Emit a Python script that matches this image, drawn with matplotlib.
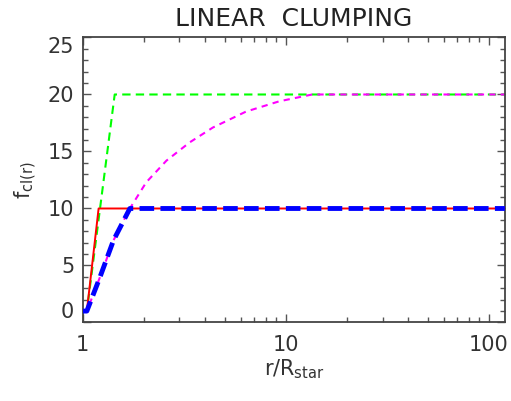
import numpy as np
import matplotlib
matplotlib.use("Agg")
import matplotlib.pyplot as plt
from matplotlib.ticker import FixedLocator, MultipleLocator, NullFormatter

plt.rcParams["font.family"] = ["DejaVu Sans"]
plt.rcParams["mathtext.fontset"] = "dejavusans"

r_red = [1.0, 1.05, 1.2, 120.0]
f_red = [1.0, 1.0, 10.0, 10.0]

r_green = [1.0, 1.05, 1.44, 120.0]
f_green = [1.0, 1.0, 20.0, 20.0]

r_magenta = [1.0, 1.05, 1.22, 1.42, 1.71, 2.06, 2.59, 3.37, 4.38, 6.38, 9.29, 13.5, 120.0]
f_magenta = [1.0, 1.0, 4.0, 7.2, 10.0, 12.3, 14.2, 15.8, 17.1, 18.5, 19.4, 20.0, 20.0]

r_blue = [1.0, 1.05, 1.22, 1.42, 1.71, 120.0]
f_blue = [1.0, 1.0, 4.0, 7.2, 10.0, 10.0]

x_ticks = [1, 10, 100]
x_tick_labels = ["1", "10", "100"]
y_ticks = [0, 5, 10, 15, 20, 25]
y_tick_labels = ["0", "5", "10", "15", "20", "25"]

fig = plt.figure(figsize=(5.11, 4.01), dpi=100)
ax = fig.add_axes([0.1615, 0.1958, 0.8265, 0.7107])

ax.plot(r_red, f_red, color="#ff0000", lw=1.4, zorder=3)
ax.plot(r_green, f_green, color="#00ff00", lw=1.5, dashes=(4, 2.5), zorder=2)
ax.plot(r_magenta, f_magenta, color="#ff00ff", lw=1.5, dashes=(3, 2.5), zorder=2)
ax.plot(r_blue, f_blue, color="#0000ff", lw=3.5, dashes=(3, 1.3), zorder=4)

ax.set_xscale("log")
ax.set_xlim(1, 120)
ax.set_ylim(0, 25)

ax.xaxis.set_major_locator(FixedLocator(x_ticks))
ax.set_xticklabels(x_tick_labels)
ax.xaxis.set_minor_formatter(NullFormatter())
ax.set_yticks(y_ticks)
ax.set_yticklabels(y_tick_labels)
ax.yaxis.set_minor_locator(MultipleLocator(1))

ax.tick_params(which="both", direction="in", top=True, right=True,
               colors="#555555", labelcolor="#333333", labelsize=15)
ax.tick_params(which="major", length=6, width=1.0)
ax.tick_params(which="minor", length=3.5, width=1.0)
ax.tick_params(axis="x", pad=9)
ax.tick_params(axis="y", pad=6)

# keep end labels inside the axis range
ylabs = ax.get_yticklabels()
ylabs[0].set_va("bottom")
ylabs[-1].set_va("top")

for s in ax.spines.values():
    s.set_color("#444444")
    s.set_linewidth(1.3)

ax.set_title("LINEAR  CLUMPING", fontsize=18, color="#222222", pad=8)
ax.set_xlabel(r"r/R$_{\rm star}$", fontsize=15, color="#333333", labelpad=2)
ax.set_ylabel(r"f$_{\rm cl(r)}$", fontsize=15, color="#333333", labelpad=6)

fig.savefig("out.png", dpi=100)
